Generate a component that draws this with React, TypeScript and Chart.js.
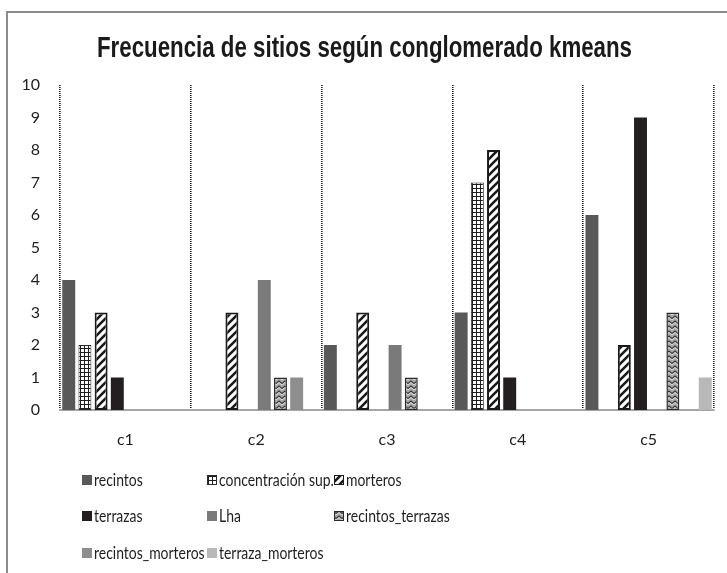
import React, { useEffect, useRef } from "react";
import { Chart, registerables } from "chart.js";
Chart.register(...registerables);

const categories = ["c1", "c2", "c3", "c4", "c5"];
const seriesNames = [
  "recintos",
  "concentración sup.",
  "morteros",
  "terrazas",
  "Lha",
  "recintos_terrazas",
  "recintos_morteros",
  "terraza_morteros",
];
const recintos = [4, 0, 2, 3, 6];
const concentracionSup = [2, 0, 0, 7, 0];
const morteros = [3, 3, 3, 8, 2];
const terrazas = [1, 0, 0, 1, 9];
const lha = [0, 4, 2, 0, 0];
const recintosTerrazas = [0, 1, 1, 0, 3];
const recintosMorteros = [0, 1, 0, 0, 0];
const terrazaMorteros = [0, 0, 0, 0, 1];
const yMin = 0;
const yMax = 10;
const yStep = 1;

const titleText = "Frecuencia de sitios según conglomerado kmeans";

function makePattern(kind: string): CanvasPattern | string {
  const c = document.createElement("canvas");
  const g = c.getContext("2d")!;
  if (kind === "grid") {
    c.width = 4; c.height = 4;
    g.fillStyle = "#ffffff"; g.fillRect(0, 0, 4, 4);
    g.fillStyle = "#1e1e1e";
    g.fillRect(0, 0, 4, 1);
    g.fillRect(0, 0, 1, 4);
  } else if (kind === "diag") {
    c.width = 8; c.height = 8;
    g.fillStyle = "#ffffff"; g.fillRect(0, 0, 8, 8);
    g.strokeStyle = "#1a1a1a"; g.lineWidth = 2.6;
    g.beginPath();
    g.moveTo(-2, 10); g.lineTo(10, -2);
    g.moveTo(-6, 6); g.lineTo(6, -6);
    g.moveTo(2, 14); g.lineTo(14, 2);
    g.stroke();
  } else if (kind === "wave") {
    c.width = 6; c.height = 5;
    g.fillStyle = "#a8a8a8"; g.fillRect(0, 0, 6, 5);
    g.strokeStyle = "#3a3a3a"; g.lineWidth = 1.2;
    g.beginPath();
    g.moveTo(0, 3.5); g.lineTo(3, 1); g.lineTo(6, 3.5);
    g.stroke();
    g.strokeStyle = "#e8e8e8"; g.lineWidth = 0.8;
    g.beginPath();
    g.moveTo(0, 5); g.lineTo(3, 2.5); g.lineTo(6, 5);
    g.stroke();
  }
  const p = g.createPattern(c, "repeat");
  return p || "#888";
}

const titlePlugin = {
  id: "narrowTitle",
  afterDraw(chart: any) {
    const ctx = chart.ctx as CanvasRenderingContext2D;
    ctx.save();
    ctx.font = "bold 29px 'Liberation Sans', Arial, sans-serif";
    const w = ctx.measureText(titleText).width;
    const sx = 535 / w;
    ctx.translate(364.5, 57);
    ctx.scale(sx, 1);
    ctx.textAlign = "center";
    ctx.textBaseline = "alphabetic";
    ctx.fillStyle = "#1a1a1a";
    ctx.fillText(titleText, 0, 0);
    ctx.restore();
  },
};

const legendPlugin = {
  id: "gridLegend",
  afterDraw(chart: any) {
    const ctx = chart.ctx as CanvasRenderingContext2D;
    const cols = [82, 207, 334];
    const rows = [480, 516, 553];
    chart.data.datasets.forEach((ds: any, i: number) => {
      const x = cols[i % 3];
      const y = rows[Math.floor(i / 3)];
      ctx.save();
      ctx.fillStyle = ds.backgroundColor;
      ctx.fillRect(x, y - 5, 10, 10);
      if (ds.borderWidth && ds.borderWidth > 0) {
        ctx.strokeStyle = ds.borderColor;
        ctx.lineWidth = 1;
        ctx.strokeRect(x + 0.5, y - 4.5, 9, 9);
      }
      ctx.fillStyle = "#1f1f1f";
      ctx.font = "17px Lato";
      ctx.textBaseline = "middle";
      ctx.textAlign = "left";
      ctx.translate(x + 12, y + 1);
      ctx.scale(0.82, 1);
      ctx.fillText(ds.label, 0, 0);
      ctx.restore();
    });
  },
};

export default function App() {
  const ref = useRef<HTMLCanvasElement>(null);
  useEffect(() => {
    if (!ref.current) return;
    const toBars = (arr: number[]) => arr.map((v) => (v === 0 ? null : v));
    const grid = makePattern("grid");
    const diag = makePattern("diag");
    const wave = makePattern("wave");
    const values = [recintos, concentracionSup, morteros, terrazas, lha, recintosTerrazas, recintosMorteros, terrazaMorteros];
    const fills: any[] = ["#595959", grid, diag, "#231f20", "#7a7a7a", wave, "#8e8e8e", "#b8b8b8"];
    const borders = ["#595959", "#2a2a2a", "#1a1a1a", "#231f20", "#7a7a7a", "#2a2a2a", "#8e8e8e", "#b8b8b8"];
    const bw = [0, 1, 2, 0, 0, 1.5, 0, 0];
    const chart = new Chart(ref.current, {
      type: "bar",
      data: {
        labels: categories,
        datasets: values.map((arr, i) => ({
          label: seriesNames[i],
          data: toBars(arr),
          backgroundColor: fills[i],
          borderColor: borders[i],
          borderWidth: bw[i],
          borderSkipped: false,
          categoryPercentage: 0.99,
          barPercentage: 0.8,
        })) as any,
      },
      options: {
        responsive: false,
        animation: false,
        layout: { padding: { left: 0, right: 13, top: 85, bottom: 0 } },
        plugins: {
          legend: { display: false },
          tooltip: { enabled: false },
          title: { display: false },
        },
        scales: {
          x: {
            grid: {
              display: true,
              offset: true,
              color: "#1f1f1f",
              lineWidth: 1.6,
              drawTicks: false,
            },
            border: { display: true, color: "#a6a6a6", width: 2, dash: [1, 1] },
            ticks: {
              color: "#1f1f1f",
              font: { family: "Lato", size: 16 },
              padding: 20,
            },
            afterFit: (scale: any) => {
              scale.height = 163;
            },
          },
          y: {
            min: yMin,
            max: yMax,
            grid: { display: false, drawTicks: false },
            border: { display: false },
            ticks: {
              stepSize: yStep,
              color: "#1f1f1f",
              font: { family: "Lato", size: 16 },
              padding: 20,
            },
            afterFit: (scale: any) => {
              scale.width = 60;
            },
          },
        },
      },
      plugins: [legendPlugin, titlePlugin],
    });
    return () => chart.destroy();
  }, []);

  return (
    <div style={{ position: "fixed", left: 0, top: 0, width: 727, height: 573, overflow: "hidden", background: "#fff" }}>
      <div
        style={{
          position: "absolute",
          left: 6,
          top: 11,
          width: 900,
          height: 900,
          borderLeft: "2px solid #8c8c8c",
          borderTop: "2px solid #8c8c8c",
        }}
      />
      <canvas ref={ref} width={727} height={573} style={{ position: "absolute", left: 0, top: 0, width: 727, height: 573 }} />
    </div>
  );
}
